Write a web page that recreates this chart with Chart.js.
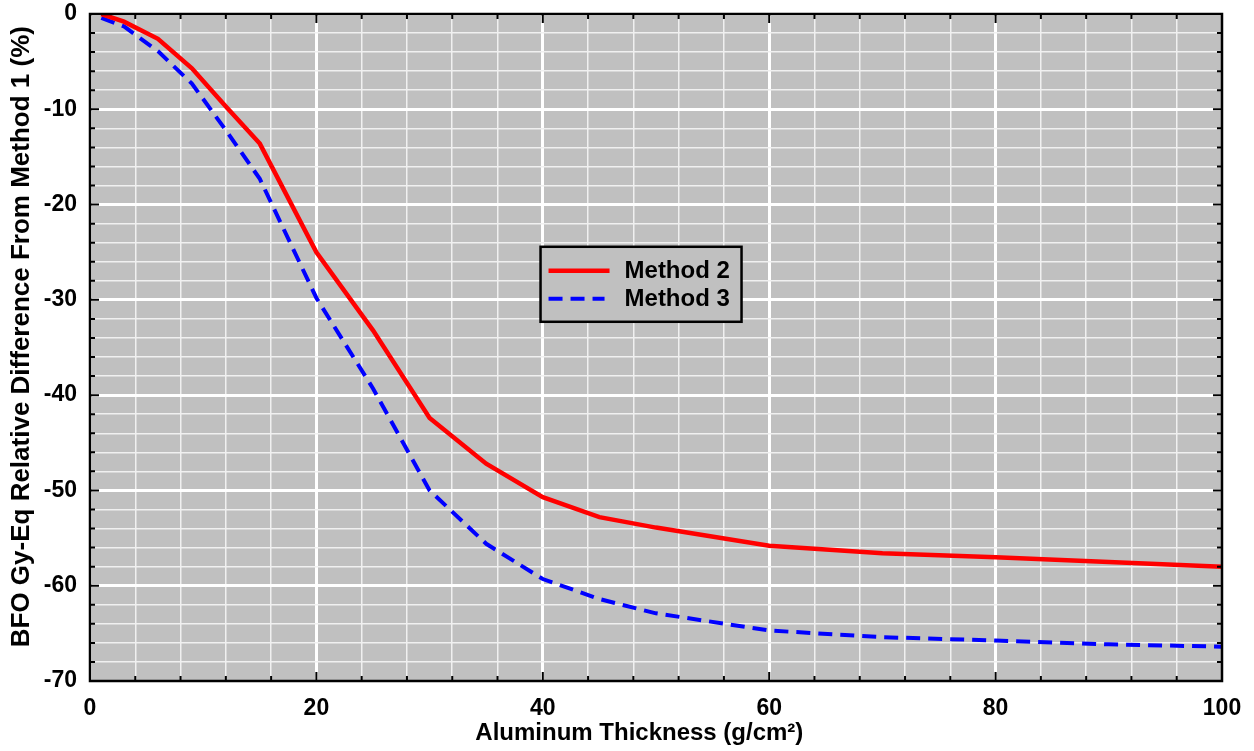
<!DOCTYPE html>
<html>
<head>
<meta charset="utf-8">
<script src="https://cdn.jsdelivr.net/npm/chart.js@4.4.1/dist/chart.umd.min.js"></script>
<style>
  html, body { margin: 0; padding: 0; background: #fff; }
  #wrap { width: 1254px; height: 751px; }
</style>
</head>
<body>
<div id="wrap"><canvas id="bfoChart"></canvas></div>
<script>
// aluminum thickness (g/cm2)
const thickness = [1, 3, 6, 9, 12, 15, 20, 25, 30, 35, 40, 45, 50, 60, 70, 80, 90, 100];
const method2 = [0, -0.8, -2.6, -5.7, -9.7, -13.6, -25.0, -33.2, -42.4, -47.2, -50.7, -52.8, -53.9, -55.8, -56.6, -57.0, -57.5, -58.0];
const method3 = [-0.4, -1.3, -3.9, -7.3, -12.2, -17.3, -29.8, -39.3, -50.0, -55.6, -59.3, -61.4, -62.9, -64.7, -65.4, -65.75, -66.15, -66.4];
const xTickLabels = [0, 20, 40, 60, 80, 100];
const yTickLabels = [0, -10, -20, -30, -40, -50, -60, -70];

const FONT = "'Liberation Sans', Arial, sans-serif";

function toPoints(xs, ys) {
  return xs.map(function (x, i) { return { x: x, y: ys[i] }; });
}

// gray plot background
const plotBackground = {
  id: "plotBackground",
  beforeDraw: function (chart) {
    const a = chart.chartArea;
    const ctx = chart.ctx;
    ctx.save();
    ctx.fillStyle = "#c0c0c0";
    ctx.fillRect(a.left, a.top, a.right - a.left, a.bottom - a.top);
    ctx.restore();
  },
};

// frame, inward ticks and the boxed legend
const frameAndLegend = {
  id: "frameAndLegend",
  afterDraw: function (chart) {
    const a = chart.chartArea;
    const ctx = chart.ctx;
    const xs = chart.scales.x;
    const ys = chart.scales.y;
    ctx.save();
    ctx.strokeStyle = "#000";
    ctx.lineWidth = 2;
    ys.ticks.forEach(function (t) {
      const p = ys.getPixelForValue(t.value);
      const len = yTickLabels.includes(t.value) ? 9 : 5;
      ctx.beginPath();
      ctx.moveTo(a.left, p); ctx.lineTo(a.left + len, p);
      ctx.moveTo(a.right, p); ctx.lineTo(a.right - len, p);
      ctx.stroke();
    });
    xs.ticks.forEach(function (t) {
      const p = xs.getPixelForValue(t.value);
      const len = xTickLabels.includes(t.value) ? 9 : 5;
      ctx.beginPath();
      ctx.moveTo(p, a.bottom); ctx.lineTo(p, a.bottom - len);
      ctx.moveTo(p, a.top); ctx.lineTo(p, a.top + len);
      ctx.stroke();
    });
    ctx.lineWidth = 2.5;
    ctx.strokeRect(a.left, a.top, a.right - a.left, a.bottom - a.top);

    // legend box
    const w = a.right - a.left, h = a.bottom - a.top;
    const bx = a.left + 0.398 * w, by = a.top + 0.349 * h;
    const bw = 201, bh = 75;
    ctx.fillStyle = "#c0c0c0";
    ctx.fillRect(bx, by, bw, bh);
    ctx.lineWidth = 2.5;
    ctx.strokeStyle = "#000";
    ctx.strokeRect(bx, by, bw, bh);
    chart.data.datasets.forEach(function (ds, i) {
      const ly = by + 24 + i * 28;
      ctx.beginPath();
      ctx.strokeStyle = ds.borderColor;
      ctx.lineWidth = ds.borderWidth;
      ctx.setLineDash(ds.borderDash || []);
      ctx.moveTo(bx + 8, ly);
      ctx.lineTo(bx + (ds.borderDash ? 64 : 69), ly);
      ctx.stroke();
      ctx.setLineDash([]);
      ctx.fillStyle = "#000";
      ctx.font = "bold 24px " + FONT;
      ctx.textBaseline = "middle";
      ctx.textAlign = "left";
      ctx.fillText(ds.label, bx + 84, ly + 1);
    });
    ctx.restore();
  },
};

const ctx = document.getElementById("bfoChart").getContext("2d");

new Chart(ctx, {
  type: "line",
  data: {
    datasets: [
      {
        label: "Method 2",
        data: toPoints(thickness, method2),
        borderColor: "#ff0000",
        borderWidth: 4.5,
        pointRadius: 0,
        tension: 0,
        fill: false,
      },
      {
        label: "Method 3",
        data: toPoints(thickness, method3),
        borderColor: "#0000ff",
        borderWidth: 4,
        borderDash: [14, 8],
        pointRadius: 0,
        tension: 0,
        fill: false,
      },
    ],
  },
  options: {
    responsive: true,
    maintainAspectRatio: false,
    animation: false,
    layout: {
      padding: { left: 0, right: 32, top: 14, bottom: 6 },
    },
    plugins: {
      legend: { display: false },
      tooltip: { enabled: false },
    },
    scales: {
      x: {
        type: "linear",
        min: 0,
        max: 100,
        afterFit: function (scale) {
          scale.height = 64;
          scale.paddingLeft = 0;
          scale.paddingRight = 0;
        },
        grid: {
          drawTicks: false,
          color: function (c) { return xTickLabels.includes(c.tick.value) ? "#ffffff" : "#f0f0f0"; },
          lineWidth: function (c) { return xTickLabels.includes(c.tick.value) ? 3 : 1.5; },
        },
        border: { display: false },
        ticks: {
          stepSize: 4,
          padding: 16,
          maxRotation: 0,
          autoSkip: false,
          color: "#000",
          font: { family: FONT, size: 23, weight: "bold", lineHeight: 1 },
          callback: function (v) { return xTickLabels.includes(v) ? String(v) : ""; },
        },
        title: {
          display: true,
          text: "Aluminum Thickness (g/cm²)     ",
          color: "#000",
          padding: { top: 1, bottom: 0 },
          font: { family: FONT, size: 24, weight: "bold", lineHeight: 1 },
        },
      },
      y: {
        type: "linear",
        min: -70,
        max: 0,
        afterFit: function (scale) {
          scale.width = 90;
          scale.paddingTop = 0;
          scale.paddingBottom = 0;
        },
        grid: {
          drawTicks: false,
          color: function (c) { return yTickLabels.includes(c.tick.value) ? "#ffffff" : "#f0f0f0"; },
          lineWidth: function (c) { return yTickLabels.includes(c.tick.value) ? 3 : 1.5; },
        },
        border: { display: false },
        ticks: {
          stepSize: 2,
          padding: 13,
          autoSkip: false,
          color: "#000",
          font: { family: FONT, size: 23, weight: "bold", lineHeight: 1 },
          callback: function (v) { return yTickLabels.includes(v) ? String(v) : ""; },
        },
        title: {
          display: true,
          text: "   BFO Gy-Eq Relative Difference From Method 1 (%)",
          color: "#000",
          padding: { top: 9, bottom: 0 },
          font: { family: FONT, size: 26, weight: "bold", lineHeight: 1 },
        },
      },
    },
  },
  plugins: [plotBackground, frameAndLegend],
});
</script>
</body>
</html>
